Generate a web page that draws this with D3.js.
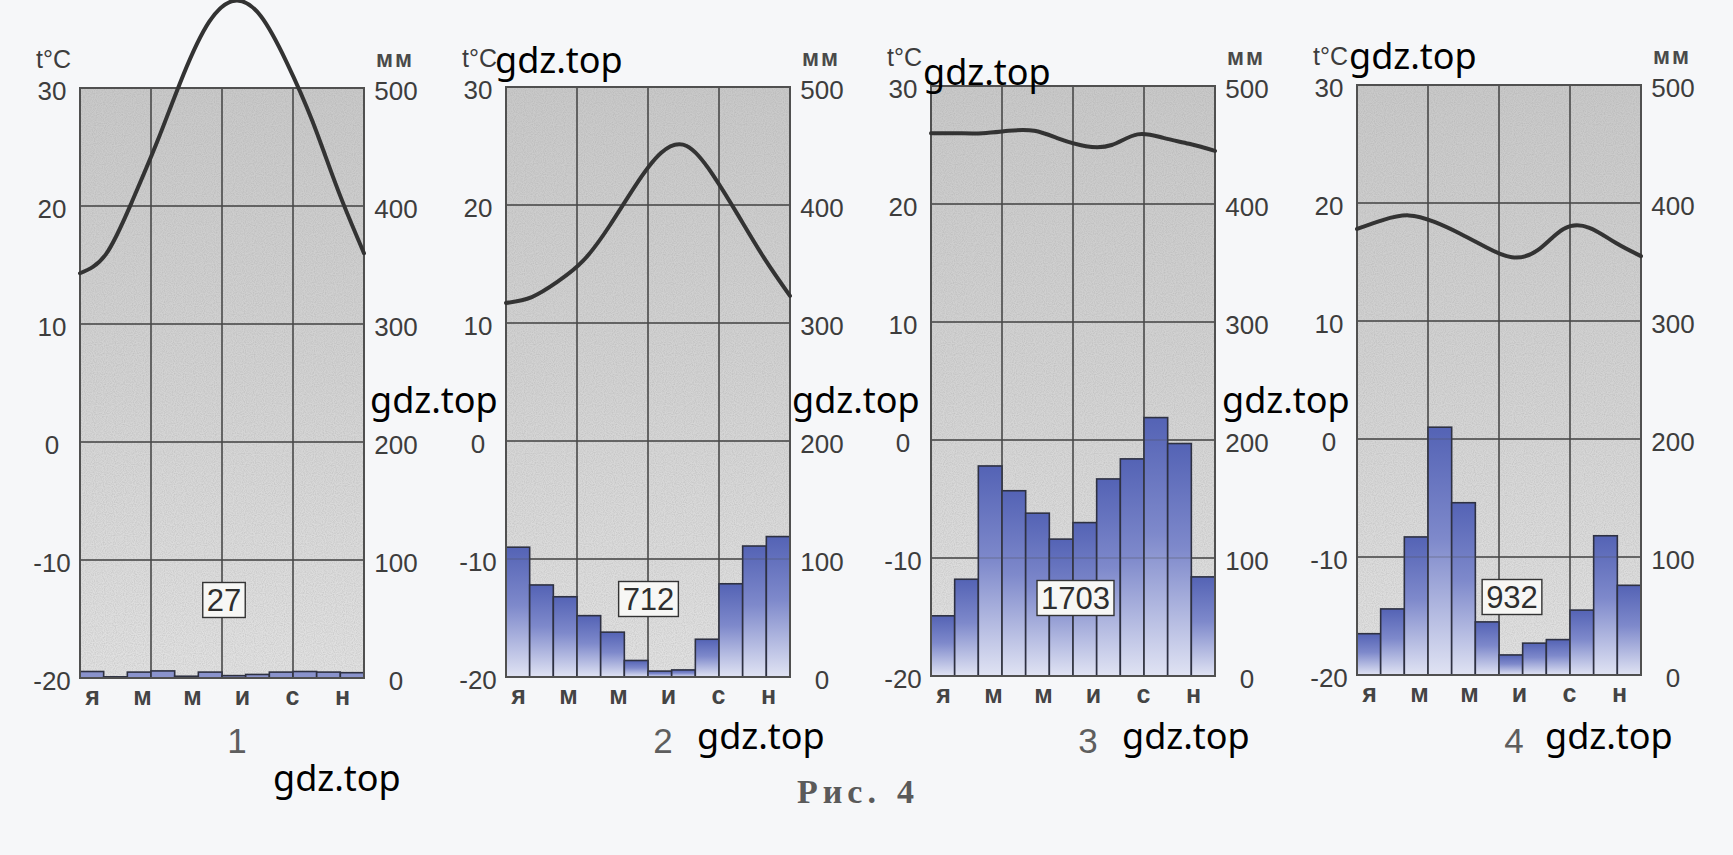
<!DOCTYPE html>
<html><head><meta charset="utf-8">
<script src="https://cdn.jsdelivr.net/npm/d3@7"></script>
<style>html,body{margin:0;padding:0;background:#f6f7f9;} svg{display:block}</style>
</head><body>
<svg id="c" width="1733" height="855"></svg>
<script>
// ---------- data ----------
const months = ["янв","фев","мар","апр","май","июн","июл","авг","сен","окт","ноя","дек"];
const monthTickLabels = ["я","м","м","и","с","н"];
const tempTicks = [30, 20, 10, 0, -10, -20];
const precipTicks = [500, 400, 300, 200, 100, 0];
const chartNames = ["1", "2", "3", "4"];
const annualTotals = [27, 712, 1703, 932];

const temp1 = [14.3, 15.9, 20.3, 25.5, 31.1, 35.6, 37.4, 36.1, 32.2, 27.2, 21.3, 16.0];
const temp2 = [11.7, 12.2, 13.5, 15.3, 18.2, 21.6, 24.4, 25.0, 22.6, 19.1, 15.5, 12.3];
const temp3 = [26.0, 26.0, 26.0, 26.2, 26.2, 25.5, 24.9, 25.0, 25.9, 25.6, 25.1, 24.5];
const temp4 = [17.8, 18.55, 18.95, 18.4, 17.4, 16.25, 15.4, 16.0, 17.8, 17.9, 16.65, 15.5];

const precip1 = [5.5, 1, 5, 6, 1.5, 5, 2, 3, 5, 5.5, 5, 4.5];
const precip2 = [110, 78, 68, 52, 38, 14, 5, 6, 32, 79, 111, 119];
const precip3 = [51, 82, 178, 157, 138, 116, 130, 167, 184, 219, 197, 84];
const precip4 = [35, 56, 117, 210, 146, 45, 17, 27, 30, 55, 118, 76];

const watermark = "gdz.top";
const caption = ["Рис.", "4"];

// ---------- layout ----------
const temps = [temp1, temp2, temp3, temp4];
const precips = [precip1, precip2, precip3, precip4];
const lefts = [80, 506, 931, 1357];
const tops = [88, 87, 86, 85];
const PW = 284, PH = 590;
const boxDx = [2, 0.5, 2.5, 13];

const svg = d3.select("#c");
const defs = svg.append("defs");

const pg = defs.append("linearGradient").attr("id", "plotBg")
  .attr("x1", 0).attr("y1", 0).attr("x2", 0).attr("y2", 1);
pg.append("stop").attr("offset", "0").attr("stop-color", "#c9c9c9");
pg.append("stop").attr("offset", "0.5").attr("stop-color", "#d3d3d3");
pg.append("stop").attr("offset", "1").attr("stop-color", "#e1e1e1");

const bg = defs.append("linearGradient").attr("id", "barGrad")
  .attr("x1", 0).attr("y1", 0).attr("x2", 0).attr("y2", 1);
bg.append("stop").attr("offset", "0").attr("stop-color", "#5463b5");
bg.append("stop").attr("offset", "0.45").attr("stop-color", "#7e89cb");
bg.append("stop").attr("offset", "1").attr("stop-color", "#e0e3f3");

// noise texture to mimic scan stipple
const f = defs.append("filter").attr("id", "grain").attr("x", 0).attr("y", 0).attr("width", 1).attr("height", 1);
f.append("feTurbulence").attr("type", "fractalNoise").attr("baseFrequency", 0.9).attr("numOctaves", 1).attr("result", "n");
f.append("feColorMatrix").attr("in", "n").attr("type", "matrix")
  .attr("values", "0 0 0 0 0.3  0 0 0 0 0.3  0 0 0 0 0.3  0 0 0 -1.2 0.75").attr("result", "m");
f.append("feComposite").attr("in", "m").attr("in2", "SourceGraphic").attr("operator", "in");

const numFont = "Liberation Sans, Arial, sans-serif";
const numColor = "#3d3d3d";

temps.forEach((tv, i) => {
  const L = lefts[i], T = tops[i];
  const g = svg.append("g");
  const x = d3.scaleBand().domain(months).range([L, L + PW]).paddingInner(0).paddingOuter(0);
  const xp = d3.scalePoint().domain(months).range([L, L + PW]);
  const xl = d3.scalePoint().domain(d3.range(monthTickLabels.length)).range([L + 12, L + 262]);
  const yT = d3.scaleLinear().domain([-20, 30]).range([T + PH, T]);
  const yP = d3.scaleLinear().domain([0, 500]).range([T + PH, T]);

  // plot background
  g.append("rect").attr("x", L).attr("y", T).attr("width", PW).attr("height", PH).attr("fill", "url(#plotBg)");
  g.append("rect").attr("x", L).attr("y", T).attr("width", PW).attr("height", PH).attr("fill", "#fff").attr("filter", "url(#grain)").attr("opacity", 0.5);

  const gridY = tempTicks.filter(t => t > -20 && t < 30);
  const gridX = [months[3], months[6], months[9]];
  const drawGrid = (op) => {
    const gg = g.append("g").attr("stroke", "#4a4a4a").attr("stroke-width", 1.5).attr("opacity", op);
    gg.selectAll("line.h").data(gridY).join("line").attr("class", "h")
      .attr("x1", L).attr("x2", L + PW).attr("y1", d => yT(d)).attr("y2", d => yT(d));
    gg.selectAll("line.v").data(gridX).join("line").attr("class", "v")
      .attr("x1", d => x(d)).attr("x2", d => x(d)).attr("y1", T).attr("y2", T + PH);
  };
  drawGrid(1);

  // precipitation bars
  g.append("g").selectAll("rect").data(precips[i]).join("rect")
    .attr("x", (d, k) => x(months[k]))
    .attr("y", d => yP(d))
    .attr("width", x.bandwidth())
    .attr("height", d => yP(0) - yP(d))
    .attr("fill", i === 0 ? "#8a93cc" : "url(#barGrad)")
    .attr("stroke", "#2e3142").attr("stroke-width", 1.6);

  drawGrid(0.28);

  // frame
  g.append("rect").attr("x", L).attr("y", T).attr("width", PW).attr("height", PH)
    .attr("fill", "none").attr("stroke", "#505050").attr("stroke-width", 2);

  // temperature axis (left)
  const ax = g.append("g").attr("transform", `translate(${L},0)`)
    .call(d3.axisLeft(yT).tickValues(tempTicks).tickSize(0).tickFormat(d => String(d)));
  ax.select(".domain").remove();
  ax.selectAll("text").attr("x", -28).attr("dy", "0.36em").attr("transform", "translate(0,2)")
    .attr("text-anchor", "middle").attr("font-size", 26).attr("font-family", numFont).attr("fill", numColor);

  // precipitation axis (right)
  const ar = g.append("g").attr("transform", `translate(${L + PW},0)`)
    .call(d3.axisRight(yP).tickValues(precipTicks).tickSize(0));
  ar.select(".domain").remove();
  ar.selectAll("text").attr("x", 32).attr("dy", "0.36em").attr("transform", "translate(0,2)")
    .attr("text-anchor", "middle").attr("font-size", 26).attr("font-family", numFont).attr("fill", numColor);

  // month axis
  const am = g.append("g").attr("transform", `translate(0,${T + PH})`)
    .call(d3.axisBottom(xl).tickSize(0).tickFormat(k => monthTickLabels[k]));
  am.select(".domain").remove();
  am.selectAll("text").attr("y", 27).attr("dy", "0").attr("font-size", 25).attr("font-weight", "bold")
    .attr("font-family", numFont).attr("fill", "#444");

  // unit labels
  g.append("text").attr("x", L - 9).attr("y", T - 20).attr("text-anchor", "end")
    .attr("font-size", 25).attr("font-family", numFont).attr("fill", numColor).text("t°C");
  g.append("text").attr("x", L + PW + 12).attr("y", T - 21)
    .attr("font-size", 23).attr("font-weight", "bold").attr("letter-spacing", 2)
    .attr("font-family", numFont).attr("fill", "#4a4a4a").text("мм");

  // temperature curve
  const line = d3.line().x((d, k) => xp(months[k])).y(d => yT(d)).curve(d3.curveNatural);
  g.append("path").datum(tv).attr("d", line).attr("fill", "none")
    .attr("stroke", "#333").attr("stroke-width", 4).attr("stroke-linecap", "round");

  // annual total box
  const cx = L + PW / 2 + boxDx[i], cy = T + 512;
  const bt = g.append("text").attr("x", cx).attr("y", cy).attr("dy", "0.36em").attr("text-anchor", "middle")
    .attr("font-size", 31).attr("font-family", numFont).attr("fill", "#2e2e2e").text(annualTotals[i]);
  const bb = bt.node().getBBox();
  g.insert("rect", () => bt.node()).attr("x", bb.x - 4).attr("y", cy - 17.5).attr("width", bb.width + 8).attr("height", 35)
    .attr("fill", "#f7f7f5").attr("stroke", "#333").attr("stroke-width", 1.4);

  // panel number
  g.append("text").attr("x", L + PW / 2 + 15).attr("y", 753).attr("text-anchor", "middle")
    .attr("font-size", 35).attr("font-family", numFont).attr("fill", "#5e5e5e").text(chartNames[i]);
});

// caption
const cap = svg.append("text").attr("y", 803).attr("font-family", "Liberation Serif, serif")
  .attr("font-weight", "bold").attr("font-size", 34).attr("fill", "#5a5a5a").attr("letter-spacing", 5);
cap.append("tspan").attr("x", 797).text(caption[0]);
cap.append("tspan").attr("x", 897).text(caption[1]);

// watermarks
const wm = svg.append("g").attr("font-family", "Noto Sans, Open Sans, sans-serif").attr("font-size", 36).attr("fill", "#000");
[[495, 73], [923, 85], [1349, 69], [370, 413], [792, 413], [1222, 413], [697, 749], [1122, 749], [1545, 749], [273, 791]]
  .forEach(p => wm.append("text").attr("x", p[0]).attr("y", p[1]).text(watermark));
</script>
</body></html>
